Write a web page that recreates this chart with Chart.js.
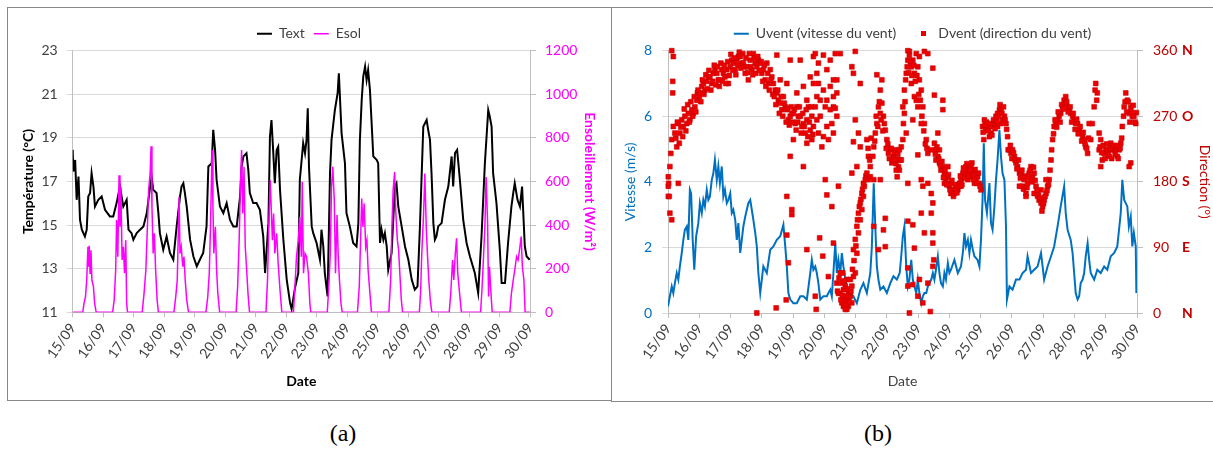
<!DOCTYPE html>
<html><head><meta charset="utf-8">
<script src="https://cdn.jsdelivr.net/npm/chart.js@4.4.0/dist/chart.umd.min.js"></script>
<style>
html,body{margin:0;padding:0;background:#fff;width:1213px;height:450px;overflow:hidden;}
.panel{position:absolute;border:1px solid #888;box-sizing:border-box;}
#pa{left:7px;top:7px;width:605px;height:394px;}
#pb{left:611px;top:7px;width:610px;height:395px;}
canvas{position:absolute;}
#ca{left:8px;top:8px;}
#cb{left:612px;top:8px;}
.cap{position:absolute;top:419px;font-family:'Liberation Serif','DejaVu Serif',serif;font-size:24px;line-height:28px;width:80px;text-align:center;color:#000;}
</style></head>
<body>
<div class="panel" id="pa"></div>
<div class="panel" id="pb"></div>
<canvas id="ca" width="602" height="391"></canvas>
<canvas id="cb" width="601" height="392"></canvas>
<div class="cap" style="left:303px">(a)</div>
<div class="cap" style="left:838px">(b)</div>
<script>
const dateLabels = ['15/09','16/09','17/09','18/09','19/09','20/09','21/09','22/09','23/09','24/09','25/09','26/09','27/09','28/09','29/09','30/09'];
const dirLetters = {0:'N',90:'E',180:'S',270:'O',360:'N'};

// [day since 15/09, °C]
const textObs = [[0,18.45],[0.02,17.46],[0.08,17.99],[0.13,16.16],[0.19,17.23],[0.24,15.24],[0.30,14.79],[0.40,14.48],[0.46,14.79],[0.51,16.31],[0.57,16.47],[0.62,17.38],[0.68,16.77],[0.73,15.85],[0.84,16.16],[0.95,16.31],[1.06,15.70],[1.22,15.40],[1.33,15.40],[1.44,16.01],[1.55,16.77],[1.66,15.85],[1.77,16.16],[1.83,14.79],[1.93,14.63],[1.99,14.33],[2.10,14.63],[2.21,14.79],[2.32,14.94],[2.43,15.55],[2.54,16.77],[2.59,17.23],[2.64,16.62],[2.75,16.47],[2.81,15.55],[2.86,14.63],[2.97,13.87],[3.08,14.48],[3.19,13.72],[3.30,13.41],[3.41,14.94],[3.52,16.31],[3.57,16.77],[3.63,16.92],[3.68,16.47],[3.74,15.85],[3.85,14.33],[3.96,13.56],[4.07,13.11],[4.17,13.41],[4.28,13.72],[4.39,14.94],[4.45,17.69],[4.56,17.84],[4.61,19.37],[4.67,18.45],[4.72,17.08],[4.83,15.85],[4.94,15.55],[5.05,16.01],[5.16,15.24],[5.27,14.94],[5.38,14.94],[5.49,16.31],[5.54,17.69],[5.60,18.15],[5.70,18.30],[5.76,17.53],[5.81,16.47],[5.92,16.01],[6.03,16.01],[6.14,15.70],[6.25,14.48],[6.31,12.80],[6.42,15.09],[6.47,19.06],[6.52,19.82],[6.58,18.30],[6.63,16.92],[6.69,18.45],[6.74,18.60],[6.80,16.62],[6.91,14.33],[7.02,12.50],[7.13,11.43],[7.18,11.15],[7.23,11.58],[7.29,12.11],[7.40,12.80],[7.45,17.08],[7.51,17.99],[7.56,18.76],[7.62,18.30],[7.67,18.91],[7.71,20.36],[7.75,17.69],[7.84,14.94],[7.89,14.63],[8.00,14.18],[8.11,13.41],[8.16,14.79],[8.22,14.02],[8.27,12.80],[8.36,11.73],[8.44,17.38],[8.49,18.91],[8.55,19.67],[8.60,20.28],[8.69,21.05],[8.73,21.96],[8.77,20.74],[8.82,19.21],[8.93,17.84],[8.98,15.55],[9.09,14.94],[9.20,14.18],[9.31,14.02],[9.37,15.09],[9.42,18.91],[9.48,20.74],[9.53,21.81],[9.59,22.27],[9.64,21.66],[9.69,22.11],[9.75,21.20],[9.80,19.82],[9.86,18.15],[9.97,17.99],[10.02,17.84],[10.08,14.18],[10.13,14.79],[10.19,14.33],[10.24,14.63],[10.30,14.02],[10.35,12.95],[10.46,13.72],[10.57,16.77],[10.62,16.92],[10.68,15.85],[10.79,14.94],[10.90,14.02],[11.01,13.41],[11.12,12.50],[11.22,12.04],[11.31,12.19],[11.39,14.94],[11.50,19.52],[11.61,19.82],[11.66,19.37],[11.72,18.91],[11.77,17.38],[11.83,15.09],[11.88,14.33],[11.93,14.48],[11.99,14.94],[12.10,15.09],[12.21,16.16],[12.32,16.77],[12.43,18.15],[12.48,16.77],[12.54,18.30],[12.61,18.45],[12.70,17.08],[12.81,15.24],[12.92,14.18],[13.03,13.56],[13.19,12.80],[13.30,11.89],[13.41,14.48],[13.52,17.84],[13.63,20.28],[13.68,19.98],[13.74,19.52],[13.79,17.38],[13.90,16.01],[14.01,13.87],[14.07,12.34],[14.18,12.34],[14.28,14.18],[14.39,15.85],[14.45,16.47],[14.50,16.92],[14.59,16.16],[14.67,15.85],[14.74,16.77],[14.83,14.02],[14.89,13.56],[14.99,13.41]];

// [day, W/m²]
const esolObs = [[0,0],[0.33,0],[0.37,41],[0.42,72],[0.46,148],[0.50,300],[0.52,209],[0.54,305],[0.57,179],[0.60,285],[0.63,148],[0.68,118],[0.72,41],[0.77,0],
[1.31,0],[1.36,56],[1.41,194],[1.44,423],[1.48,255],[1.52,629],[1.55,392],[1.58,576],[1.62,240],[1.66,301],[1.70,179],[1.74,331],[1.77,41],[1.80,0],
[2.28,0],[2.34,87],[2.40,194],[2.45,392],[2.49,560],[2.54,637],[2.57,762],[2.60,484],[2.64,270],[2.68,362],[2.72,194],[2.77,56],[2.81,0],
[3.32,0],[3.38,72],[3.43,148],[3.49,530],[3.52,270],[3.56,301],[3.61,209],[3.65,255],[3.69,148],[3.74,56],[3.80,0],
[4.37,0],[4.43,72],[4.48,179],[4.52,392],[4.57,744],[4.60,484],[4.63,270],[4.68,392],[4.72,194],[4.76,87],[4.82,0],
[5.36,0],[5.41,118],[5.46,331],[5.50,576],[5.54,744],[5.58,453],[5.62,667],[5.66,301],[5.70,209],[5.75,87],[5.80,0],
[6.34,0],[6.39,148],[6.43,392],[6.48,606],[6.51,484],[6.55,331],[6.59,453],[6.63,270],[6.69,362],[6.74,224],[6.80,102],[6.86,0],
[7.24,0],[7.29,118],[7.34,255],[7.40,331],[7.45,438],[7.50,255],[7.53,599],[7.57,179],[7.62,270],[7.67,255],[7.73,179],[7.78,41],[7.81,0],
[8.35,0],[8.40,118],[8.45,270],[8.49,576],[8.53,667],[8.58,515],[8.62,179],[8.67,446],[8.71,255],[8.75,148],[8.80,41],[8.84,0],
[9.34,0],[9.40,118],[9.44,316],[9.48,522],[9.52,392],[9.56,499],[9.61,301],[9.65,331],[9.69,194],[9.75,87],[9.80,0],
[10.37,0],[10.43,148],[10.47,392],[10.51,560],[10.56,644],[10.60,453],[10.65,331],[10.69,285],[10.73,179],[10.78,56],[10.82,0],
[11.37,0],[11.41,87],[11.45,270],[11.51,453],[11.55,637],[11.60,377],[11.64,255],[11.68,148],[11.73,56],[11.78,0],
[12.35,0],[12.40,87],[12.46,240],[12.50,148],[12.55,270],[12.59,339],[12.63,179],[12.69,87],[12.75,0],
[13.38,0],[13.43,118],[13.48,270],[13.52,392],[13.56,621],[13.61,408],[13.64,72],[13.67,209],[13.72,87],[13.76,0],
[14.34,0],[14.39,87],[14.45,148],[14.50,194],[14.56,255],[14.61,240],[14.67,301],[14.71,347],[14.75,209],[14.80,148],[14.84,0],[15,0]];

// [day, m/s]
const uventObs = [[0.00,0.20],[0.06,0.51],[0.12,0.81],[0.17,0.61],[0.22,0.91],[0.28,1.22],[0.33,1.02],[0.38,1.42],[0.44,1.83],[0.49,2.23],[0.54,2.54],[0.60,2.64],[0.65,2.23],[0.70,3.76],[0.74,3.65],[0.79,2.23],[0.84,1.32],[0.90,2.34],[0.97,2.74],[1.02,3.35],[1.08,3.05],[1.13,3.45],[1.18,3.25],[1.24,3.76],[1.29,3.45],[1.34,3.55],[1.40,4.06],[1.45,4.26],[1.50,4.67],[1.56,4.06],[1.61,4.47],[1.66,3.96],[1.72,4.47],[1.77,3.55],[1.82,3.76],[1.88,3.35],[1.93,3.45],[1.99,3.65],[2.04,3.05],[2.09,3.15],[2.15,2.84],[2.20,2.23],[2.25,2.74],[2.31,1.83],[2.36,2.23],[2.41,2.64],[2.47,2.94],[2.52,3.15],[2.57,3.35],[2.63,3.45],[2.68,3.15],[2.73,2.84],[2.79,2.44],[2.84,2.03],[2.89,1.22],[2.95,0.61],[3.00,1.02],[3.05,1.42],[3.16,1.22],[3.27,1.93],[3.37,2.03],[3.48,2.23],[3.59,2.34],[3.69,2.69],[3.75,2.03],[3.80,1.42],[3.85,0.61],[3.91,0.41],[4.01,0.30],[4.12,0.30],[4.23,0.51],[4.33,0.51],[4.44,0.41],[4.55,1.22],[4.60,1.62],[4.65,1.32],[4.71,1.42],[4.76,1.22],[4.81,0.91],[4.87,0.41],[4.97,0.51],[5.08,0.51],[5.13,0.61],[5.19,0.71],[5.24,0.51],[5.29,1.22],[5.35,2.13],[5.40,1.22],[5.45,1.62],[5.51,1.22],[5.56,1.83],[5.61,1.42],[5.67,1.02],[5.72,0.81],[5.83,0.61],[5.93,0.51],[6.04,0.30],[6.15,0.71],[6.25,0.91],[6.36,0.61],[6.47,1.22],[6.52,2.03],[6.58,3.96],[6.63,2.64],[6.68,1.42],[6.73,1.02],[6.79,0.71],[6.89,0.81],[7.00,0.61],[7.11,0.91],[7.21,1.12],[7.32,1.02],[7.41,1.22],[7.46,1.73],[7.51,2.34],[7.56,2.64],[7.62,1.42],[7.67,0.81],[7.72,1.02],[7.78,1.62],[7.83,1.02],[7.88,0.81],[7.94,0.61],[7.99,1.02],[8.04,0.61],[8.10,0.30],[8.15,0.51],[8.20,0.61],[8.26,0.61],[8.31,0.81],[8.42,1.02],[8.47,1.22],[8.52,1.02],[8.57,1.32],[8.63,1.73],[8.68,1.22],[8.73,0.91],[8.79,0.81],[8.84,1.22],[8.89,1.02],[8.95,1.52],[9.00,1.22],[9.05,1.32],[9.16,1.62],[9.27,1.22],[9.37,1.42],[9.43,1.83],[9.48,2.44],[9.53,2.03],[9.59,2.23],[9.64,1.83],[9.69,2.23],[9.75,1.93],[9.80,1.73],[9.90,1.62],[9.96,1.42],[10.01,2.23],[10.06,3.45],[10.10,5.18],[10.14,3.45],[10.20,3.05],[10.28,3.96],[10.33,2.74],[10.38,2.54],[10.44,3.25],[10.49,4.06],[10.54,4.67],[10.60,5.58],[10.65,4.77],[10.70,4.26],[10.76,4.06],[10.81,2.64],[10.84,0.41],[10.92,0.81],[11.02,0.71],[11.13,1.02],[11.24,1.02],[11.34,1.22],[11.45,1.32],[11.50,1.73],[11.61,1.22],[11.71,1.32],[11.82,1.42],[11.93,1.83],[12.03,1.02],[12.14,1.42],[12.25,1.73],[12.35,2.03],[12.46,2.64],[12.56,3.25],[12.67,3.86],[12.72,3.05],[12.78,2.54],[12.88,2.23],[12.94,1.83],[12.99,1.22],[13.04,0.61],[13.10,0.41],[13.15,0.51],[13.20,0.91],[13.26,1.02],[13.31,1.22],[13.36,1.73],[13.42,2.13],[13.47,1.62],[13.52,1.22],[13.63,1.02],[13.73,1.32],[13.84,1.22],[13.95,1.42],[14.05,1.32],[14.16,1.73],[14.27,1.83],[14.37,2.03],[14.48,3.05],[14.53,4.06],[14.59,3.45],[14.69,3.25],[14.74,2.64],[14.80,2.94],[14.85,2.03],[14.90,2.44],[14.96,2.03],[14.98,0.61]];

// [day, degrees]
const dventObs = [[0.01,174],[0.01,160],[0.01,187],[0.04,160],[0.02,178],[0.06,137],[0.12,128],[0.12,360],[0.17,352],[0.15,318],[0.15,302],[0.06,201],[0.09,219],[0.12,238],[0.17,256],[0.22,247],[0.28,228],[0.33,178],[0.33,260],[0.38,247],[0.44,265],[0.49,256],[0.54,270],[0.60,260],[0.65,274],[0.70,265],[0.76,279],[0.81,274],[0.86,283],[0.92,292],[0.94,302],[1.00,297],[1.02,302],[1.08,311],[1.13,315],[1.18,306],[1.24,318],[1.29,324],[1.34,324],[1.40,315],[1.45,329],[1.50,334],[1.56,329],[1.61,320],[1.66,320],[1.72,334],[1.77,329],[1.82,324],[1.88,334],[1.93,315],[1.99,338],[2.04,347],[2.09,343],[2.15,334],[2.20,347],[2.25,352],[2.31,352],[2.36,343],[2.41,343],[2.47,329],[2.52,338],[2.57,320],[2.63,347],[2.68,334],[2.73,356],[2.79,343],[2.84,338],[2.89,347],[2.95,343],[3.00,329],[3.05,334],[3.11,320],[3.16,343],[3.21,315],[3.27,334],[3.32,324],[3.37,315],[3.43,306],[3.48,302],[3.53,292],[3.59,288],[3.64,279],[3.69,297],[3.75,283],[3.80,279],[3.85,265],[3.91,270],[3.96,274],[4.01,274],[4.07,260],[4.12,283],[4.17,270],[4.23,270],[4.28,256],[4.33,260],[4.39,247],[4.44,265],[4.49,283],[4.55,251],[4.60,270],[4.65,256],
[0.25,240],[0.30,262],[0.36,233],[0.41,255],[0.47,242],[0.52,280],[0.57,250],[0.63,286],[0.68,262],[0.73,290],[0.79,270],[0.84,297],[0.89,276],[0.96,306],[1.05,290],[1.10,320],[1.15,300],[1.21,327],[1.26,308],[1.31,333],[1.37,306],[1.43,318],[1.48,340],[1.53,313],[1.58,338],[1.64,311],[1.69,343],[1.74,318],[1.80,340],[1.85,315],[1.91,345],[1.96,326],[2.01,355],[2.07,333],[2.12,350],[2.17,327],[2.23,340],[2.28,358],[2.33,336],[2.39,356],[2.44,338],[2.49,350],[2.55,330],[2.60,356],[2.65,338],[2.71,327],[2.76,350],[2.81,329],[2.87,352],[2.92,333],[2.98,345],[3.03,318],[3.08,340],[3.13,311],[3.19,329],[3.24,306],[3.29,320],[3.35,300],[3.40,297],[3.45,286],[3.51,306],[3.56,274],[3.62,297],[3.67,270],[3.72,288],[3.78,262],[3.83,281],[3.88,258],[3.94,283],[3.99,262],[4.04,279],[4.10,251],[4.15,262],[4.20,283],[4.26,247],[4.31,274],[4.36,256],[4.42,279],[4.47,242],[4.52,262],[4.58,283],[4.63,245],
[3.48,354],[3.91,347],[4.23,347],[4.44,233],[4.33,201],[4.01,238],[4.65,352],[4.76,329],[4.87,292],[4.97,242],[5.08,334],[5.19,311],[5.29,283],[5.40,320],[5.51,356],[4.55,324],[4.76,297],[4.87,270],[4.97,306],[5.08,292],[5.19,279],[5.29,297],[5.35,281],[4.65,315],[4.44,292],[5.03,183],[5.08,162],[5.24,146],[5.45,174],[3.91,215],[3.80,160],[3.96,142],[3.96,135],[3.80,107],[3.85,69],[3.78,18],[3.46,7],[2.84,0],[4.44,87],[4.85,103],[4.95,78],[4.71,23],[4.74,5],[5.29,96],[5.13,50],[4.71,356],[4.81,343],[4.97,354],[5.19,347],[5.35,356],[4.76,265],[5.08,256],[5.24,260],[4.60,238],[4.92,228],[5.13,238],[5.29,247],[5.40,270],[4.81,247],[4.71,283],[5.03,283],[5.40,302],[4.12,302],[4.33,311],[3.80,315],[3.59,320],[5.29,320],[4.81,315],
[5.40,41],[5.45,27],[5.51,27],[5.56,14],[5.61,32],[5.67,18],[5.72,46],[5.77,9],[5.83,23],[5.88,37],[5.72,5],[5.59,55],[5.93,50],[5.51,55],[5.67,37],[5.77,27],[5.61,9],[5.88,14],[5.56,41],[5.83,46],[5.99,55],[5.67,5],[5.72,23],
[5.42,30],[5.47,48],[5.53,18],[5.58,24],[5.63,44],[5.69,12],[5.74,33],[5.79,16],[5.85,30],[5.90,60],[5.95,72],[6.01,92],[6.06,128],[6.12,146],[6.17,156],[6.22,170],[6.28,174],[6.33,188],
[5.93,87],[5.99,101],[6.04,119],[6.09,137],[6.15,151],[6.20,164],[6.25,178],[6.31,183],[6.36,192],[6.41,183],[6.47,187],[6.58,183],[6.04,82],[6.15,128],[6.20,142],[6.09,110],[6.25,160],
[5.93,329],[5.88,338],[6.15,315],[6.09,247],[5.99,265],[5.93,235],[5.88,192],[5.99,359],[6.04,201],[6.15,228],
[6.36,238],[6.41,215],[6.47,201],[6.58,228],[6.68,260],[6.73,283],[6.79,306],[6.84,288],[6.89,270],[7.00,238],[7.11,224],[7.21,215],[7.32,219],[7.43,210],[6.63,247],[6.79,274],[6.95,251],[7.05,219],[7.16,206],[7.27,224],[7.37,201],[6.68,327],[6.84,320],[6.79,183],[6.58,119],[6.73,87],[6.95,130],[6.95,91],[6.89,114],
[6.40,226],[6.45,210],[6.50,240],[6.55,215],[6.61,236],[6.66,270],[6.71,256],[6.76,290],[6.82,265],[6.87,250],[6.92,260],[6.98,226],[7.03,232],[7.08,212],[7.14,226],[7.19,208],[7.24,220],[7.29,205],[7.35,212],[7.40,196],
[7.25,210],[7.30,196],[7.35,219],[7.40,224],[7.46,228],[7.51,238],[7.51,283],[7.56,306],[7.62,329],[7.67,347],[7.72,359],[7.78,338],[7.83,347],[7.88,329],[7.94,356],[7.99,338],[8.04,320],[8.10,306],[8.15,283],[8.20,260],[8.26,238],[8.31,219],[7.67,360],[7.72,354],[8.04,352],[8.20,359],[8.31,356],[8.47,336],[8.52,299],[8.79,292],[8.79,279],[8.63,247],[8.42,224],[7.99,217],[8.10,183],[8.15,174],[8.31,178],[8.42,164],[8.47,151],[7.67,178],[7.67,126],[7.83,121],[8.10,137],[8.42,137],[7.88,89],[8.20,110],[8.47,110],[8.47,96],[8.50,73],[8.47,64],[7.67,62],[8.04,46],[7.83,39],[8.31,41],[7.67,37],[7.99,23],[8.15,14],[8.39,2],[7.72,0],[7.56,274],[7.78,315],[7.88,297],[7.99,283],[8.10,260],[7.62,247],[7.83,265],[7.94,292],[7.46,210],[7.33,187],
[7.53,260],[7.58,290],[7.60,320],[7.65,338],[7.70,330],[7.75,345],[7.80,326],[7.86,340],[7.91,318],[7.96,326],[8.02,300],[8.07,292],[8.12,270],[8.18,250],[8.23,232],[8.28,226],
[8.52,233],[8.57,224],[8.63,215],[8.68,206],[8.73,196],[8.79,201],[8.84,192],[8.89,183],[8.95,187],[9.00,174],[9.05,178],[9.11,169],[9.16,164],[9.21,174],[9.27,169],[9.32,178],[9.37,183],[9.43,192],[9.48,192],[9.53,201],[9.59,196],[9.64,192],[9.69,201],[9.75,187],[9.80,194],[9.85,183],[9.90,187],[9.96,178],[10.01,169],[8.57,210],[8.68,224],[8.84,178],[8.95,201],[9.05,164],[9.37,174],[9.59,183],[9.80,178],
[8.55,218],[8.60,228],[8.66,212],[8.71,203],[8.76,208],[8.81,186],[8.86,196],[8.92,176],[8.97,190],[9.02,169],[9.08,182],[9.13,160],[9.19,176],[9.24,165],[9.29,174],[9.35,188],[9.40,176],[9.45,199],[9.50,185],[9.56,205],[9.61,188],[9.66,196],[9.72,206],[9.77,183],[9.82,197],[9.88,178],[9.93,192],[9.98,174],
[10.06,256],[10.10,238],[10.12,265],[10.17,251],[10.22,256],[10.28,242],[10.33,247],[10.38,256],[10.44,260],[10.49,270],[10.54,274],[10.60,279],[10.65,279],[10.70,265],[10.76,270],[10.81,260],[10.54,256],[10.65,260],
[10.08,248],[10.14,258],[10.19,262],[10.25,250],[10.30,260],[10.36,244],[10.41,265],[10.46,253],[10.52,263],[10.57,270],[10.62,286],[10.68,274],[10.73,283],[10.78,265],[10.83,252],
[10.86,242],[10.88,224],[10.92,224],[10.97,219],[11.02,224],[11.08,215],[11.13,206],[11.18,201],[11.24,192],[11.29,192],[11.34,174],[11.39,183],[11.45,164],[11.50,178],[11.55,192],[11.61,201],[11.66,187],[11.71,192],[11.77,174],[11.82,160],[11.87,155],[11.93,151],[11.98,146],[12.03,155],[12.09,164],[12.14,174],[12.19,183],[12.25,210],[12.30,238],[12.35,256],[12.40,260],[12.46,265],[12.51,270],[12.56,274],[12.62,283],[12.67,292],[12.72,297],[12.78,283],[12.83,279],[12.88,274],[12.94,270],[12.99,265],[13.04,260],[13.10,260],[13.15,251],[13.20,247],[13.26,242],[13.31,238],[13.36,228],[13.42,219],[13.47,260],[13.52,238],[13.57,260],[13.63,283],[13.66,306],[13.68,315],[13.71,292],[13.73,302],[13.79,247],[13.84,238],[13.84,201],[13.89,210],[13.95,219],[14.00,224],[14.05,224],[14.11,215],[14.16,233],[14.21,224],[14.27,224],[14.32,228],[14.37,215],[14.43,224],[14.48,233],[14.53,256],[14.59,283],[14.64,302],[14.69,292],[14.75,274],[14.80,283],[14.85,270],[14.90,270],[14.96,260],[14.80,206],[14.75,201],[13.79,224],[11.24,174],[11.45,160],[11.71,164],[11.93,169],[12.09,183],
[10.95,230],[11.00,212],[11.05,220],[11.10,210],[11.16,198],[11.21,210],[11.27,185],[11.32,196],[11.37,170],[11.42,188],[11.48,172],[11.53,185],[11.58,196],[11.64,180],[11.69,200],[11.74,182],[11.80,168],[11.85,162],[11.90,158],[11.96,140],[12.01,150],[12.06,160],[12.12,168],[12.17,176],[12.22,196],[12.27,224],
[12.33,246],[12.38,265],[12.43,255],[12.48,276],[12.54,262],[12.59,286],[12.64,280],[12.70,288],[12.75,290],[12.80,276],[12.86,283],[12.91,262],[12.96,274],[13.02,252],[13.07,266],[13.12,246],[13.18,256],[13.23,236],[13.28,248],[13.34,232],[13.39,226],[13.45,240],
[13.82,228],[13.87,220],[13.92,230],[13.98,212],[14.03,232],[14.08,218],[14.14,226],[14.19,212],[14.24,230],[14.30,218],[14.35,230],[14.40,212],[14.46,226],[14.51,240],
[14.57,270],[14.62,290],[14.67,276],[14.72,290],[14.77,262],[14.82,276],[14.88,285],[14.93,262],[14.98,275]];

const GRID = '#d9d9d9', AXIS = '#bfbfbf', TXT = '#404040';
const MAG = '#ff00ff', BLUE = '#0070c0', DRED = '#c00000';
Chart.defaults.font.family = "Lato, 'Open Sans', sans-serif";
Chart.defaults.font.size = 14;
Chart.defaults.color = TXT;
const toXY = a => a.map(p => ({x: p[0], y: p[1]}));
const bySet = (a, b) => a.datasetIndex - b.datasetIndex;
const plain = v => String(v);

const xScale = (h, bold, col, pb) => ({
  type: 'linear', min: 0, max: 15,
  afterFit: s => { s.height = h; },
  grid: {drawOnChartArea: false, tickLength: 5, color: AXIS},
  border: {color: AXIS},
  ticks: {stepSize: 1, autoSkip: false, minRotation: 55, maxRotation: 55, padding: 3, color: TXT,
          callback: v => dateLabels[Math.round(v)]},
  title: {display: true, text: 'Date', color: col, font: {weight: bold ? 'bold' : 'normal'}, padding: {top: 0, bottom: pb}}
});

new Chart(document.getElementById('ca'), {
  type: 'line',
  data: {datasets: [
    {label: 'Text', data: toXY(textObs), yAxisID: 'y', borderColor: '#000', backgroundColor: '#000', borderWidth: 2, pointRadius: 0, pointStyle: 'line', order: 1, tension: 0},
    {label: 'Esol', data: toXY(esolObs), yAxisID: 'y1', borderColor: MAG, backgroundColor: MAG, borderWidth: 1.5, pointRadius: 0, pointStyle: 'line', order: 0, tension: 0}
  ]},
  options: {
    responsive: false, animation: false, events: [],
    layout: {padding: 0},
    plugins: {
      legend: {position: 'top', labels: {usePointStyle: true, pointStyleWidth: 15, boxHeight: 5, padding: 9, color: TXT, sort: bySet}},
      tooltip: {enabled: false}
    },
    scales: {
      x: xScale(86.7, true, '#000', 9.6),
      y: {position: 'left', min: 11, max: 23,
          afterFit: s => { s.width = 64.7; s.paddingTop = 42.7; },
          grid: {color: GRID, tickLength: 6}, border: {color: AXIS},
          ticks: {stepSize: 2, padding: 9, color: TXT, callback: plain},
          title: {display: true, text: 'Température (°C)', color: '#000', font: {weight: 'bold'}, padding: {top: 12, bottom: 0}}},
      y1: {position: 'right', min: 0, max: 1200,
          afterFit: s => { s.width = 80; },
          grid: {drawOnChartArea: false, tickLength: 6, color: AXIS}, border: {color: AXIS},
          ticks: {stepSize: 200, padding: 9, color: MAG, callback: plain},
          title: {display: true, text: 'Ensoleillement (W/m²)', color: MAG, font: {weight: 'bold'}, padding: {top: 11.6, bottom: 0}}}
    }
  }
});

const sq = document.createElement('canvas');
sq.width = 5; sq.height = 5;
const sg = sq.getContext('2d'); sg.fillStyle = '#e80000'; sg.fillRect(0, 0, 5, 5);

new Chart(document.getElementById('cb'), {
  type: 'line',
  data: {datasets: [
    {label: 'Uvent (vitesse du vent)', data: toXY(uventObs), yAxisID: 'y', borderColor: BLUE, backgroundColor: BLUE, borderWidth: 2, pointRadius: 0, pointStyle: 'line', order: 1, tension: 0},
    {label: 'Dvent (direction du vent)', data: toXY(dventObs), yAxisID: 'y2', showLine: false, pointStyle: 'rect', pointRadius: 3.4, backgroundColor: '#ee0000', borderColor: '#c80000', borderWidth: 0.6, order: 0, clip: 6}
  ]},
  options: {
    responsive: false, animation: false, events: [],
    layout: {padding: {top: -11, left: 0, right: 0, bottom: 0}},
    plugins: {
      legend: {position: 'top', labels: {usePointStyle: true, pointStyleWidth: 15, boxHeight: 5, padding: 20, color: TXT, sort: bySet,
        generateLabels: chart => {
          const items = Chart.defaults.plugins.legend.labels.generateLabels(chart);
          items.forEach(it => { if (it.datasetIndex === 1) it.pointStyle = sq; });
          return items;
        }}},
      tooltip: {enabled: false}
    },
    scales: {
      x: xScale(87, false, TXT, 10.6),
      y: {position: 'left', min: 0, max: 8,
          afterFit: s => { s.width = 56; s.paddingTop = 42.7; },
          grid: {color: GRID, tickLength: 6}, border: {color: AXIS},
          ticks: {stepSize: 2, padding: 10, color: BLUE, callback: plain},
          title: {display: true, text: 'Vitesse (m/s)', color: BLUE, padding: {top: 9.6, bottom: 0}}},
      y2: {position: 'right', weight: 0, min: 0, max: 360,
          afterFit: s => { s.width = 40; },
          grid: {drawOnChartArea: false, tickLength: 6, color: AXIS}, border: {color: AXIS},
          ticks: {stepSize: 90, padding: 10, color: DRED, callback: plain}},
      y3: {position: 'right', weight: 1, min: 0, max: 360,
          afterFit: s => { s.width = 36; },
          grid: {display: false, drawTicks: false}, border: {display: false},
          ticks: {stepSize: 90, padding: 5, color: DRED, font: {weight: 'bold'}, callback: v => dirLetters[v]},
          title: {display: true, text: 'Direction (°)', color: DRED, padding: {top: 0, bottom: 0}}}
    }
  }
});
</script>
</body></html>
